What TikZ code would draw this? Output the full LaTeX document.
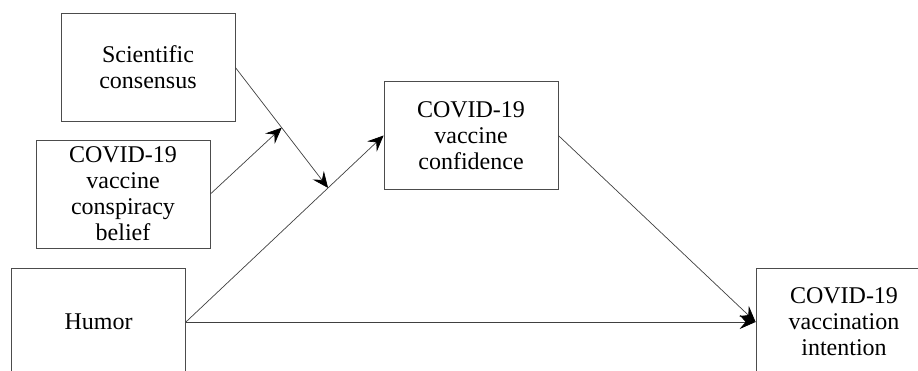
\documentclass[tikz,border=0pt]{standalone}
\usepackage{fontspec}
\setmainfont{Liberation Serif}
\usetikzlibrary{arrows.meta,calc}
\begin{document}
\begin{tikzpicture}[x=1pt,y=-1pt,
  box/.style={draw=black!70,line width=0.8pt,minimum width=174pt,minimum height=108pt,
    inner sep=0pt,align=center,font=\fontsize{24}{26}\selectfont,text=black},
  conn/.style={draw=black!75,line width=0.7pt,-{Stealth[length=16pt,width=14pt,inset=6pt,color=black]}},
  plain/.style={draw=black!75,line width=0.7pt}]
\useasboundingbox (0,0) rectangle (918,370);
\clip (0,0) rectangle (918,370);
\node[box] (sci) at (148,67.5) {Scientific\\consensus};
\node[box] (consp) at (123,194) {COVID-19\\vaccine\\conspiracy\\belief};
\node[box] (humor) at (98.5,322) {Humor};
\node[box] (conf) at (471,135.5) {COVID-19\\vaccine\\confidence};
\node[box,minimum width=176pt] (int) at (844,322) {COVID-19\\vaccination\\intention};
\coordinate (p) at ($(humor.east)!0.719!(conf.west)$);
\coordinate (m) at ($(sci.east)!0.5!(p)$);
\draw[conn] (humor.east) -- (conf.west);
\draw[plain] (sci.east) -- (m);
\draw[conn] (m) -- (p);
\draw[conn] (consp.east) -- (m);
\draw[conn] (humor.east) -- (int.west);
\draw[conn] (conf.east) -- (int.west);
\end{tikzpicture}
\end{document}
